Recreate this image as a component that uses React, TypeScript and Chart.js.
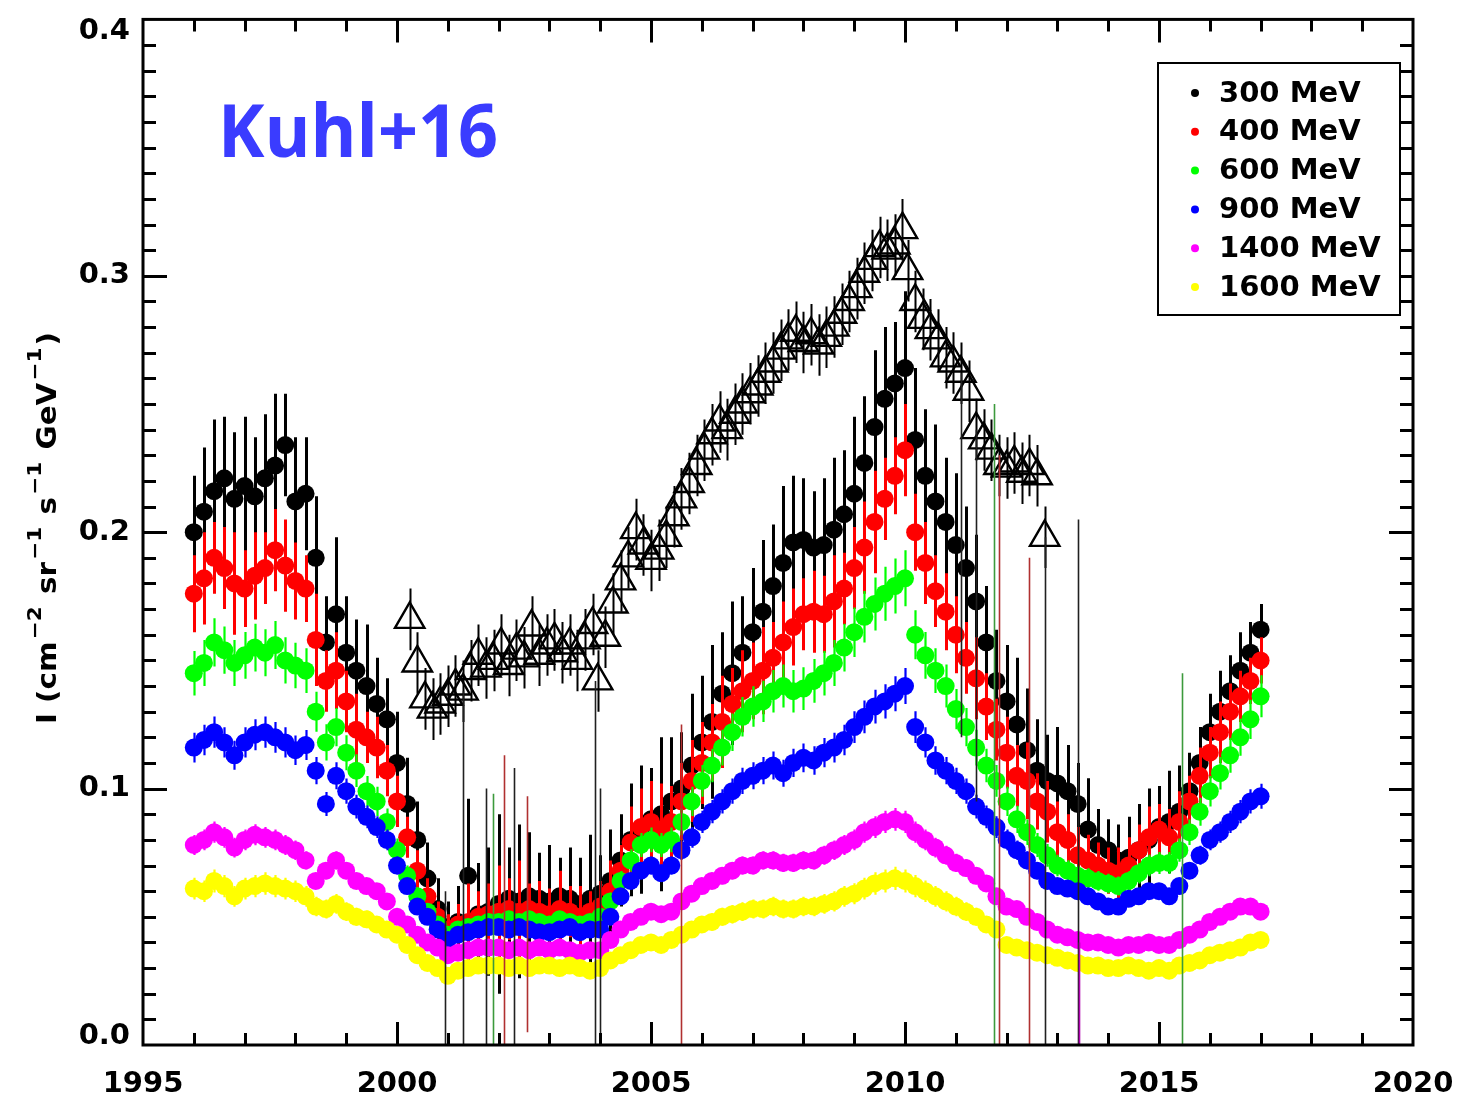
import { useEffect, useRef } from 'react';
import { Chart, registerables } from 'chart.js';

Chart.register(...registerables);

// Sampling of the monthly-averaged intensities: one value every 0.2 yr from 1996.0 to 2017.0
const START_YEAR = 1996;
const STEP_YEARS = 0.2;

const energyLabels = ['300 MeV', '400 MeV', '600 MeV', '900 MeV', '1400 MeV', '1600 MeV'];
const seriesColors = ['#000000', '#ff0000', '#00ff00', '#0000ff', '#ff00ff', '#ffff00'];

// Intensities, cm^-2 sr^-1 s^-1 GeV^-1
const flux300 = [
  0.200, 0.208, 0.216, 0.221, 0.213,
  0.218, 0.214, 0.221, 0.226, 0.234,
  0.212, 0.215, 0.190, 0.157, 0.168,
  0.153, 0.146, 0.140, 0.133, 0.127,
  0.110, 0.094, 0.080, 0.065, 0.053,
  0.046, 0.048, 0.066, 0.051, 0.052,
  0.055, 0.057, 0.056, 0.058, 0.057,
  0.056, 0.058, 0.057, 0.055, 0.057,
  0.059, 0.064, 0.072, 0.080, 0.084,
  0.088, 0.090, 0.095, 0.100, 0.109,
  0.118, 0.126, 0.137, 0.145, 0.153,
  0.161, 0.169, 0.179, 0.188, 0.196,
  0.197, 0.194, 0.195, 0.201, 0.207,
  0.215, 0.227, 0.241, 0.252, 0.258,
  0.264, 0.236, 0.222, 0.212, 0.204,
  0.195, 0.186, 0.173, 0.157, 0.142,
  0.134, 0.125, 0.115, 0.107, 0.103,
  0.102, 0.099, 0.094, 0.084, 0.078,
  0.076, 0.072, 0.073, 0.076, 0.080,
  0.085, 0.087, 0.091, 0.099, 0.110,
  0.122, 0.130, 0.138, 0.146, 0.153,
  0.162,
];
const flux400 = [
  0.176, 0.182, 0.190, 0.186, 0.180,
  0.178, 0.183, 0.186, 0.193, 0.187,
  0.181, 0.178, 0.158, 0.142, 0.146,
  0.134, 0.123, 0.120, 0.116, 0.107,
  0.095, 0.081, 0.068, 0.058, 0.050,
  0.045, 0.047, 0.048, 0.050, 0.051,
  0.052, 0.053, 0.052, 0.053, 0.052,
  0.051, 0.053, 0.052, 0.050, 0.052,
  0.054, 0.060, 0.068, 0.079, 0.085,
  0.087, 0.084, 0.087, 0.095, 0.103,
  0.110, 0.118, 0.126, 0.133, 0.138,
  0.142, 0.146, 0.151, 0.157, 0.163,
  0.168, 0.169, 0.168, 0.173, 0.178,
  0.186, 0.194, 0.204, 0.213, 0.222,
  0.232, 0.200, 0.188, 0.177, 0.169,
  0.160, 0.151, 0.143, 0.132, 0.123,
  0.114, 0.105, 0.103, 0.095, 0.091,
  0.083, 0.080, 0.074, 0.072, 0.070,
  0.068, 0.067, 0.070, 0.076, 0.081,
  0.084, 0.081, 0.087, 0.095, 0.105,
  0.114, 0.122, 0.130, 0.136, 0.142,
  0.150,
];
const flux600 = [
  0.145, 0.149, 0.157, 0.154, 0.149,
  0.152, 0.155, 0.153, 0.156, 0.150,
  0.148, 0.146, 0.130, 0.118, 0.124,
  0.114, 0.107, 0.099, 0.095, 0.087,
  0.076, 0.066, 0.058, 0.052, 0.047,
  0.043, 0.045, 0.046, 0.047, 0.048,
  0.048, 0.049, 0.048, 0.049, 0.048,
  0.047, 0.049, 0.048, 0.047, 0.048,
  0.050, 0.056, 0.064, 0.072, 0.078,
  0.080, 0.078, 0.080, 0.087, 0.095,
  0.103, 0.109, 0.116, 0.122, 0.128,
  0.132, 0.134, 0.138, 0.140, 0.138,
  0.139, 0.142, 0.145, 0.149, 0.155,
  0.161, 0.167, 0.172, 0.176, 0.179,
  0.182, 0.160, 0.152, 0.146, 0.140,
  0.131, 0.124, 0.116, 0.109, 0.103,
  0.095, 0.088, 0.083, 0.078, 0.074,
  0.070, 0.068, 0.066, 0.065, 0.064,
  0.063, 0.062, 0.064, 0.067, 0.070,
  0.071, 0.071, 0.076, 0.083, 0.091,
  0.099, 0.106, 0.113, 0.120, 0.127,
  0.136,
];
const flux900 = [
  0.116, 0.119, 0.122, 0.118, 0.113,
  0.118, 0.121, 0.122, 0.120, 0.118,
  0.115, 0.117, 0.107, 0.094, 0.105,
  0.099, 0.093, 0.089, 0.085, 0.080,
  0.070, 0.062, 0.054, 0.050, 0.045,
  0.041, 0.043, 0.044, 0.045, 0.046,
  0.046, 0.045, 0.046, 0.045, 0.044,
  0.044, 0.045, 0.046, 0.044, 0.045,
  0.045, 0.050, 0.058, 0.064, 0.068,
  0.070, 0.067, 0.070, 0.076, 0.081,
  0.087, 0.091, 0.095, 0.099, 0.103,
  0.105, 0.107, 0.109, 0.106, 0.110,
  0.112, 0.111, 0.114, 0.116, 0.119,
  0.124, 0.128, 0.132, 0.134, 0.137,
  0.140, 0.124, 0.118, 0.111, 0.107,
  0.103, 0.099, 0.093, 0.089, 0.085,
  0.080, 0.076, 0.072, 0.068, 0.064,
  0.062, 0.061, 0.060, 0.058, 0.056,
  0.054, 0.054, 0.057, 0.058, 0.060,
  0.060, 0.058, 0.062, 0.068, 0.074,
  0.080, 0.083, 0.087, 0.091, 0.095,
  0.097,
];
const flux1400 = [
  0.078, 0.080, 0.083, 0.081, 0.077,
  0.080, 0.082, 0.081, 0.080, 0.078,
  0.076, 0.072, 0.064, 0.068, 0.072,
  0.068, 0.064, 0.062, 0.060, 0.056,
  0.050, 0.047, 0.043, 0.040, 0.038,
  0.035, 0.036, 0.037, 0.038, 0.038,
  0.038, 0.037, 0.038, 0.037, 0.038,
  0.037, 0.038, 0.037, 0.036, 0.037,
  0.037, 0.041, 0.045, 0.048, 0.050,
  0.052, 0.051, 0.052, 0.056, 0.059,
  0.062, 0.064, 0.066, 0.068, 0.070,
  0.070, 0.072, 0.072, 0.071, 0.071,
  0.072, 0.072, 0.074, 0.076, 0.078,
  0.080, 0.083, 0.085, 0.087, 0.088,
  0.087, 0.083, 0.080, 0.077, 0.074,
  0.071, 0.069, 0.066, 0.063, 0.058,
  0.054, 0.053, 0.050, 0.048, 0.045,
  0.043, 0.042, 0.041, 0.040, 0.040,
  0.039, 0.038, 0.039, 0.039, 0.040,
  0.039, 0.039, 0.041, 0.043, 0.045,
  0.048, 0.050, 0.052, 0.054, 0.054,
  0.052,
];
const flux1600 = [
  0.061, 0.060, 0.064, 0.062, 0.058,
  0.061, 0.062, 0.063, 0.062, 0.061,
  0.060, 0.058, 0.054, 0.053, 0.055,
  0.052, 0.050, 0.049, 0.047, 0.045,
  0.043, 0.039, 0.035, 0.032, 0.030,
  0.027, 0.029, 0.030, 0.031, 0.031,
  0.031, 0.030, 0.031, 0.030, 0.031,
  0.031, 0.030, 0.031, 0.030, 0.029,
  0.030, 0.033, 0.035, 0.037, 0.039,
  0.040, 0.039, 0.041, 0.043, 0.045,
  0.047, 0.048, 0.050, 0.051, 0.052,
  0.053, 0.053, 0.054, 0.053, 0.053,
  0.054, 0.054, 0.055, 0.056, 0.058,
  0.059, 0.061, 0.063, 0.064, 0.065,
  0.064, 0.062, 0.060, 0.058, 0.056,
  0.054, 0.052, 0.050, 0.047, 0.045,
  0.039, 0.038, 0.037, 0.036, 0.035,
  0.034, 0.033, 0.032, 0.031, 0.031,
  0.030, 0.030, 0.031, 0.030, 0.029,
  0.030, 0.029, 0.031, 0.032, 0.033,
  0.035, 0.036, 0.037, 0.038, 0.040,
  0.041,
];

// 1-sigma uncertainties of the two lowest channels, in units of 1e-3
const err300 = [
  22, 25, 28, 24, 26,
  27, 23, 25, 28, 20,
  25, 22, 24, 18, 30,
  22, 20, 24, 18, 16,
  20, 18, 15, 14, 12,
  10, 14, 30, 20, 25,
  35, 20, 30, 25, 18,
  22, 15, 20, 18, 25,
  15, 20, 18, 22, 25,
  20, 30, 25, 22, 28,
  26, 30, 24, 28, 22,
  25, 28, 24, 30, 26,
  24, 22, 26, 28, 25,
  30, 26, 30, 28, 24,
  30, 28, 26, 30, 25,
  28, 24, 26, 22, 20,
  22, 26, 24, 20, 18,
  22, 18, 16, 20, 14,
  12, 14, 16, 18, 20,
  16, 20, 18, 15, 14,
  15, 16, 14, 15, 12,
  10,
];
const err400 = [
  15, 18, 14, 16, 20,
  15, 17, 14, 16, 18,
  15, 13, 18, 12, 15,
  12, 14, 10, 12, 10,
  10, 8, 8, 7, 6,
  6, 8, 15, 10, 12,
  18, 12, 20, 10, 12,
  10, 15, 10, 12, 8,
  10, 12, 10, 14, 15,
  16, 18, 14, 15, 16,
  16, 15, 18, 14, 16,
  15, 17, 14, 16, 15,
  14, 16, 15, 18, 14,
  16, 18, 20, 16, 15,
  18, 15, 16, 14, 15,
  15, 14, 16, 13, 12,
  14, 12, 15, 11, 12,
  12, 10, 11, 10, 9,
  9, 10, 11, 10, 12,
  10, 11, 12, 10, 11,
  10, 12, 11, 10, 9,
  9,
];
// Relative uncertainties of the higher channels
const relErr600 = 0.06;
const relErr900 = 0.05;
const relErr1400 = 0.05;
const relErr1600 = 0.07;

// Second data set (open triangles)
const triYears = [
  2000.25, 2000.4, 2000.55, 2000.7, 2000.85, 2001.0, 2001.15, 2001.3, 2001.45, 2001.6,
  2001.75, 2001.9, 2002.05, 2002.2, 2002.35, 2002.5, 2002.65, 2002.8, 2002.95, 2003.1,
  2003.25, 2003.4, 2003.55, 2003.7, 2003.85, 2003.95, 2004.1, 2004.25, 2004.4, 2004.55,
  2004.7, 2004.85, 2005.0, 2005.15, 2005.3, 2005.45, 2005.6, 2005.75, 2005.9, 2006.05,
  2006.2, 2006.35, 2006.5, 2006.65, 2006.8, 2006.95, 2007.1, 2007.25, 2007.4, 2007.55,
  2007.7, 2007.85, 2008.0, 2008.15, 2008.3, 2008.45, 2008.6, 2008.75, 2008.9, 2009.05,
  2009.2, 2009.35, 2009.5, 2009.65, 2009.8, 2009.95, 2010.05, 2010.2, 2010.35, 2010.5,
  2010.65, 2010.8, 2010.95, 2011.1, 2011.25, 2011.4, 2011.55, 2011.7, 2011.85, 2012.0,
  2012.15, 2012.3, 2012.45, 2012.6, 2012.75,
];
const triFlux = [
  0.166, 0.149, 0.135, 0.131, 0.133, 0.136, 0.140, 0.138, 0.146, 0.152,
  0.147, 0.150, 0.156, 0.148, 0.154, 0.151, 0.163, 0.152, 0.156, 0.158,
  0.153, 0.156, 0.150, 0.158, 0.164, 0.142, 0.159, 0.172, 0.181, 0.190,
  0.201, 0.195, 0.189, 0.193, 0.198, 0.206, 0.213, 0.219, 0.226, 0.232,
  0.238, 0.243, 0.240, 0.246, 0.250, 0.254, 0.257, 0.262, 0.266, 0.271,
  0.275, 0.278, 0.274, 0.277, 0.273, 0.276, 0.280, 0.285, 0.290, 0.295,
  0.301, 0.306, 0.311, 0.310, 0.312, 0.318, 0.302, 0.290, 0.283, 0.279,
  0.275, 0.268, 0.266, 0.262, 0.255, 0.240, 0.236, 0.232, 0.226, 0.225,
  0.227, 0.223, 0.226, 0.222, 0.198,
];
const triErr = 0.012;

// Isolated points with very large uncertainties: [year, low, high, series index]
const wideBars: [number, number, number, number][] = [
  [2000.95, 0.0, 0.060, 0],
  [2001.3, 0.0, 0.138, 0],
  [2001.75, 0.0, 0.100, 0],
  [2001.88, 0.0, 0.098, 2],
  [2002.1, 0.0, 0.113, 1],
  [2002.3, 0.0, 0.108, 0],
  [2002.55, 0.005, 0.097, 1],
  [2003.9, 0.0, 0.142, 0],
  [2004.0, 0.0, 0.100, 0],
  [2005.6, 0.0, 0.125, 1],
  [2011.1, 0.12, 0.262, 0],
  [2011.4, 0.095, 0.240, 0],
  [2011.75, 0.0, 0.250, 2],
  [2011.85, 0.0, 0.230, 1],
  [2012.45, 0.0, 0.190, 1],
  [2012.75, 0.0, 0.198, 0],
  [2013.4, 0.0, 0.205, 0],
  [2013.42, 0.0, 0.040, 4],
  [2015.45, 0.0, 0.145, 2],
];

const X_MIN = 1995;
const X_MAX = 2020;
const Y_MIN = 0;
const Y_MAX = 0.4;
const xTickValues = [1995, 2000, 2005, 2010, 2015, 2020];
const yTickValues = [0.0, 0.1, 0.2, 0.3, 0.4];
const xTickLabels = ['1995', '2000', '2005', '2010', '2015', '2020'];
const yTickLabels = ['0.0', '0.1', '0.2', '0.3', '0.4'];

const yTitleParts: [string, boolean][] = [
  ['I (cm', false], ['−2', true], [' sr', false], ['−1', true],
  [' s', false], ['−1', true], [' GeV', false], ['−1', true], [')', false],
];
const annotation = 'Kuhl+16';

const FONT = '"DejaVu Sans", "Liberation Sans", sans-serif';

const years = flux300.map((_, i) => Math.round((START_YEAR + i * STEP_YEARS) * 10) / 10);

const fluxSeries = [flux300, flux400, flux600, flux900, flux1400, flux1600];
const errorSeries = [
  err300.map((e) => e / 1000),
  err400.map((e) => e / 1000),
  flux600.map((v) => v * relErr600),
  flux900.map((v) => v * relErr900),
  flux1400.map((v) => v * relErr1400),
  flux1600.map((v) => v * relErr1600),
];

const errorBarPlugin = {
  id: 'errorBars',
  beforeDatasetDraw(chart: any, args: any) {
    const ds = chart.data.datasets[args.index];
    const errs: number[] | undefined = ds.errorBars;
    if (!errs) return;
    const { ctx, chartArea } = chart;
    const xs = chart.scales.x;
    const ys = chart.scales.y;
    ctx.save();
    ctx.beginPath();
    ctx.rect(chartArea.left, chartArea.top, chartArea.right - chartArea.left, chartArea.bottom - chartArea.top);
    ctx.clip();
    ctx.strokeStyle = ds.errorColor;
    ctx.lineWidth = ds.errorWidth;
    ctx.beginPath();
    ds.data.forEach((p: { x: number; y: number }, i: number) => {
      const px = Math.round(xs.getPixelForValue(p.x)) + 0.5;
      ctx.moveTo(px, ys.getPixelForValue(p.y - errs[i]));
      ctx.lineTo(px, ys.getPixelForValue(p.y + errs[i]));
    });
    ctx.stroke();
    ctx.restore();
  },
  afterDatasetsDraw(chart: any) {
    const { ctx, chartArea } = chart;
    const xs = chart.scales.x;
    const ys = chart.scales.y;
    ctx.save();
    ctx.beginPath();
    ctx.rect(chartArea.left, chartArea.top, chartArea.right - chartArea.left, chartArea.bottom - chartArea.top);
    ctx.clip();
    ctx.lineWidth = 1.6;
    wideBars.forEach(([yr, lo, hi, s]) => {
      const px = Math.round(xs.getPixelForValue(yr)) + 0.5;
      ctx.strokeStyle = s === 3 ? '#0000ff' : s === 2 ? '#3c9a3c' : s === 1 ? '#b03030' : s === 4 ? '#b000b0' : '#202020';
      ctx.beginPath();
      ctx.moveTo(px, ys.getPixelForValue(lo));
      ctx.lineTo(px, ys.getPixelForValue(hi));
      ctx.stroke();
    });
    ctx.restore();
  },
};

const framePlugin = {
  id: 'frame',
  afterDraw(chart: any) {
    const { ctx, chartArea } = chart;
    const { left, right, top, bottom } = chartArea;
    const xs = chart.scales.x;
    const ys = chart.scales.y;
    ctx.save();
    ctx.strokeStyle = '#000';
    ctx.lineWidth = 3;
    ctx.strokeRect(left, top, right - left, bottom - top);

    // year ticks, bottom and top, pointing inward
    ctx.beginPath();
    for (let yr = X_MIN + 1; yr < X_MAX; yr++) {
      const len = yr % 5 === 0 ? 23 : 12;
      const px = Math.round(xs.getPixelForValue(yr)) + 0.5;
      ctx.moveTo(px, bottom);
      ctx.lineTo(px, bottom - len);
      ctx.moveTo(px, top);
      ctx.lineTo(px, top + len);
    }
    // intensity ticks every 0.01, left and right
    for (let k = 1; k < 40; k++) {
      const len = k % 10 === 0 ? 24 : 13;
      const py = Math.round(ys.getPixelForValue(k / 100)) + 0.5;
      ctx.moveTo(left, py);
      ctx.lineTo(left + len, py);
      ctx.moveTo(right, py);
      ctx.lineTo(right - len, py);
    }
    ctx.stroke();

    // tick labels
    ctx.fillStyle = '#000';
    ctx.font = `bold 29px ${FONT}`;
    ctx.textAlign = 'center';
    ctx.textBaseline = 'middle';
    xTickValues.forEach((v, i) => {
      ctx.fillText(xTickLabels[i], xs.getPixelForValue(v), bottom + 39);
    });
    ctx.textAlign = 'right';
    yTickValues.forEach((v, i) => {
      const py = Math.min(Math.max(ys.getPixelForValue(v), top + 12), bottom - 9);
      ctx.fillText(yTickLabels[i], left - 13, py);
    });

    // rotated axis title with superscripts
    const mainFont = `bold 26px ${FONT}`;
    const supFont = `bold 19px ${FONT}`;
    let total = 0;
    yTitleParts.forEach(([t, sup]) => {
      ctx.font = sup ? supFont : mainFont;
      total += ctx.measureText(t).width + (sup ? 4 : 0);
    });
    const span = 392;
    ctx.save();
    ctx.translate(56, 528);
    ctx.rotate(-Math.PI / 2);
    ctx.scale(span / total, 1);
    ctx.textAlign = 'left';
    ctx.textBaseline = 'alphabetic';
    let cx = -total / 2;
    yTitleParts.forEach(([t, sup]) => {
      ctx.font = sup ? supFont : mainFont;
      if (sup) cx += 2;
      ctx.fillText(t, cx, sup ? -15 : 0);
      cx += ctx.measureText(t).width + (sup ? 2 : 0);
    });
    ctx.restore();

    // legend
    const lx = 1158, ly = 63, lw = 242, lh = 252;
    ctx.fillStyle = '#fff';
    ctx.fillRect(lx, ly, lw, lh);
    ctx.lineWidth = 2;
    ctx.strokeStyle = '#000';
    ctx.strokeRect(lx, ly, lw, lh);
    ctx.font = `bold 29px ${FONT}`;
    ctx.textAlign = 'left';
    ctx.textBaseline = 'middle';
    energyLabels.forEach((lab, i) => {
      const rowY = 93 + i * 38.8;
      ctx.fillStyle = seriesColors[i];
      ctx.beginPath();
      ctx.arc(1195, rowY, 4, 0, Math.PI * 2);
      ctx.fill();
      ctx.fillStyle = '#000';
      ctx.fillText(lab, 1219, rowY + 1);
    });

    // reference tag
    ctx.font = `bold 74px "Open Sans", ${FONT}`;
    const w = ctx.measureText(annotation).width;
    ctx.save();
    ctx.translate(218, 157);
    ctx.scale(280 / w, 1);
    ctx.fillStyle = '#3a3cff';
    ctx.textAlign = 'left';
    ctx.textBaseline = 'alphabetic';
    ctx.fillText(annotation, 0, 0);
    ctx.restore();

    ctx.restore();
  },
};

export default function App() {
  const canvasRef = useRef<HTMLCanvasElement | null>(null);

  useEffect(() => {
    const canvas = canvasRef.current;
    if (!canvas) return;

    const circleSets = fluxSeries.map((vals, s) => ({
      label: energyLabels[s],
      data: vals.map((v, i) => ({ x: years[i], y: v })),
      backgroundColor: seriesColors[s],
      borderColor: seriesColors[s],
      borderWidth: 0,
      pointRadius: 9,
      pointHoverRadius: 9,
      pointStyle: 'circle',
      showLine: false,
      order: 6 - s,
      errorBars: errorSeries[s],
      errorColor: seriesColors[s],
      errorWidth: s < 2 ? 3 : 2.2,
    }));

    const triangleSet = {
      label: 'triangles',
      data: triFlux.map((v, i) => ({ x: triYears[i], y: v })),
      backgroundColor: 'rgba(0,0,0,0)',
      borderColor: '#000',
      borderWidth: 2.4,
      pointRadius: 17,
      pointHoverRadius: 17,
      pointStyle: 'triangle',
      showLine: false,
      order: 8,
      errorBars: triFlux.map(() => triErr),
      errorColor: '#000',
      errorWidth: 2,
    };

    const chart = new Chart(canvas, {
      type: 'scatter',
      data: { datasets: [triangleSet, ...circleSets] as any },
      options: {
        animation: false,
        responsive: false,
        devicePixelRatio: 1,
        events: [],
        layout: { padding: { left: 143, right: 54, top: 14, bottom: 58 } },
        plugins: { legend: { display: false }, tooltip: { enabled: false } },
        scales: {
          x: { type: 'linear', min: X_MIN, max: X_MAX, display: false },
          y: { type: 'linear', min: Y_MIN, max: Y_MAX, display: false },
        },
      },
      plugins: [errorBarPlugin, framePlugin],
    });

    return () => chart.destroy();
  }, []);

  return (
    <div style={{ position: 'absolute', left: 0, top: 0, width: 1467, height: 1103, background: '#fff' }}>
      <canvas ref={canvasRef} width={1467} height={1103} style={{ display: 'block', width: 1467, height: 1103 }} />
    </div>
  );
}
